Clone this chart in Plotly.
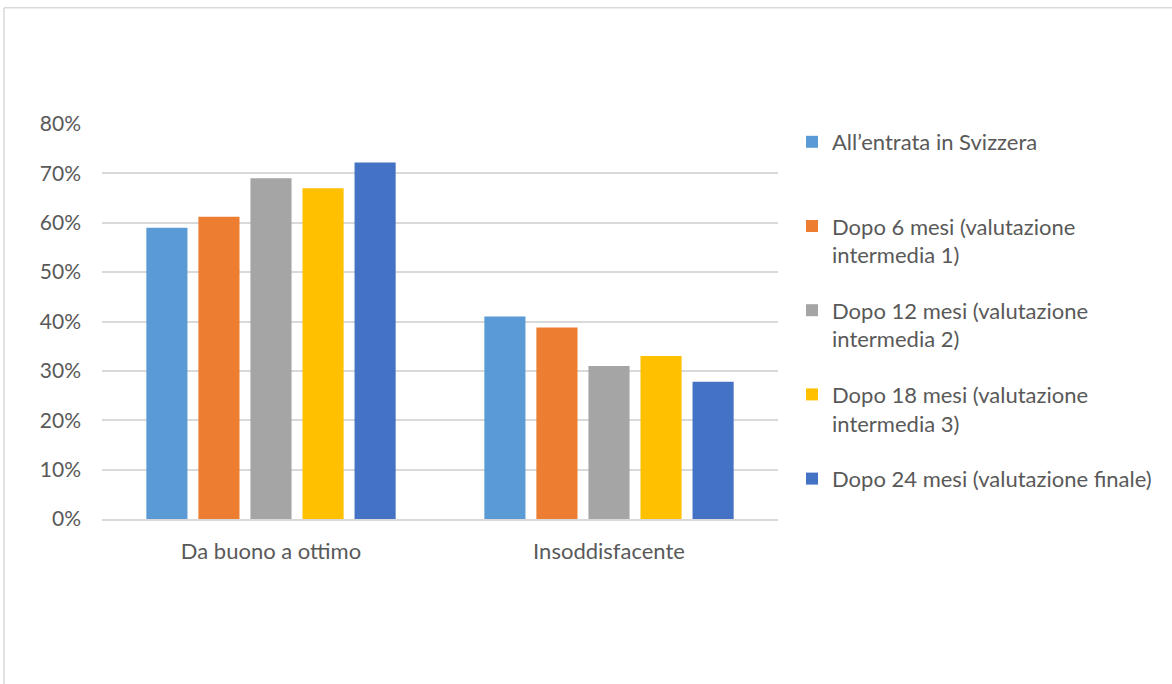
import plotly.graph_objects as go

categories = ["Da buono a ottimo", "Insoddisfacente"]
series_names = [
    "All’entrata in Svizzera",
    "Dopo 6 mesi (valutazione<br>intermedia 1)",
    "Dopo 12 mesi (valutazione<br>intermedia 2)",
    "Dopo 18 mesi (valutazione<br>intermedia 3)",
    "Dopo 24 mesi (valutazione finale)",
]
entrata = [0.59, 0.41]
dopo_6 = [0.612, 0.388]
dopo_12 = [0.69, 0.31]
dopo_18 = [0.67, 0.33]
dopo_24 = [0.722, 0.278]
colors = ["#5B9BD5", "#ED7D31", "#A5A5A5", "#FFC000", "#4472C4"]
y_ticks = [0, 0.1, 0.2, 0.3, 0.4, 0.5, 0.6, 0.7, 0.8]

W, H = 1172, 684
ML, MR, MT, MB = 102, 394, 124, 164.5
PW, PH = W - ML - MR, H - MT - MB

fig = go.Figure()
for i, (name, vals) in enumerate(zip(series_names, [entrata, dopo_6, dopo_12, dopo_18, dopo_24])):
    # single-line entries keep a blank second line so every legend slot has equal height
    label = name if "<br>" in name or i == 4 else name + "<br> "
    fig.add_trace(go.Bar(
        x=categories, y=vals, name=label,
        marker=dict(color=colors[i], line=dict(width=0)),
        legendgroup=f"g{i}",
    ))

def px_x(x):
    return (x - ML) / PW

def px_y(y):
    return (H - MB - y) / PH

# outer chart frame (top and left edges)
frame = dict(color="#D9D9D9", width=1.5)
fig.add_shape(type="line", xref="paper", yref="paper",
              x0=px_x(4), y0=px_y(7.5), x1=px_x(W + 5), y1=px_y(7.5), line=frame)
fig.add_shape(type="line", xref="paper", yref="paper",
              x0=px_x(4), y0=px_y(7.5), x1=px_x(4), y1=px_y(H + 5), line=frame)

font_family = "Lato, 'Open Sans', sans-serif"
fig.update_layout(
    width=W, height=H,
    margin=dict(l=ML, r=MR, t=MT, b=MB),
    paper_bgcolor="white", plot_bgcolor="white",
    barmode="group", bargap=0.23, bargroupgap=0.21,
    font=dict(family=font_family, size=22, color="#595959"),
    xaxis=dict(showgrid=False, showline=True, linecolor="#D9D9D9", linewidth=1.5,
               ticks="", tickfont=dict(size=22, color="#595959"), ticklabelstandoff=12),
    yaxis=dict(range=[0, 0.8], tickvals=y_ticks, tickformat=".0%",
               showgrid=True, gridcolor="#D9D9D9", gridwidth=1.5,
               zeroline=False, showline=False, ticks="",
               ticklabelstandoff=20, tickfont=dict(size=21, color="#595959")),
    legend=dict(x=px_x(792), y=px_y(121), xanchor="left", yanchor="top",
                valign="top", tracegroupgap=24, traceorder="grouped",
                maxheight=600,
                font=dict(size=22, color="#595959"), bgcolor="rgba(0,0,0,0)"),
)

fig.write_html("out.html")
